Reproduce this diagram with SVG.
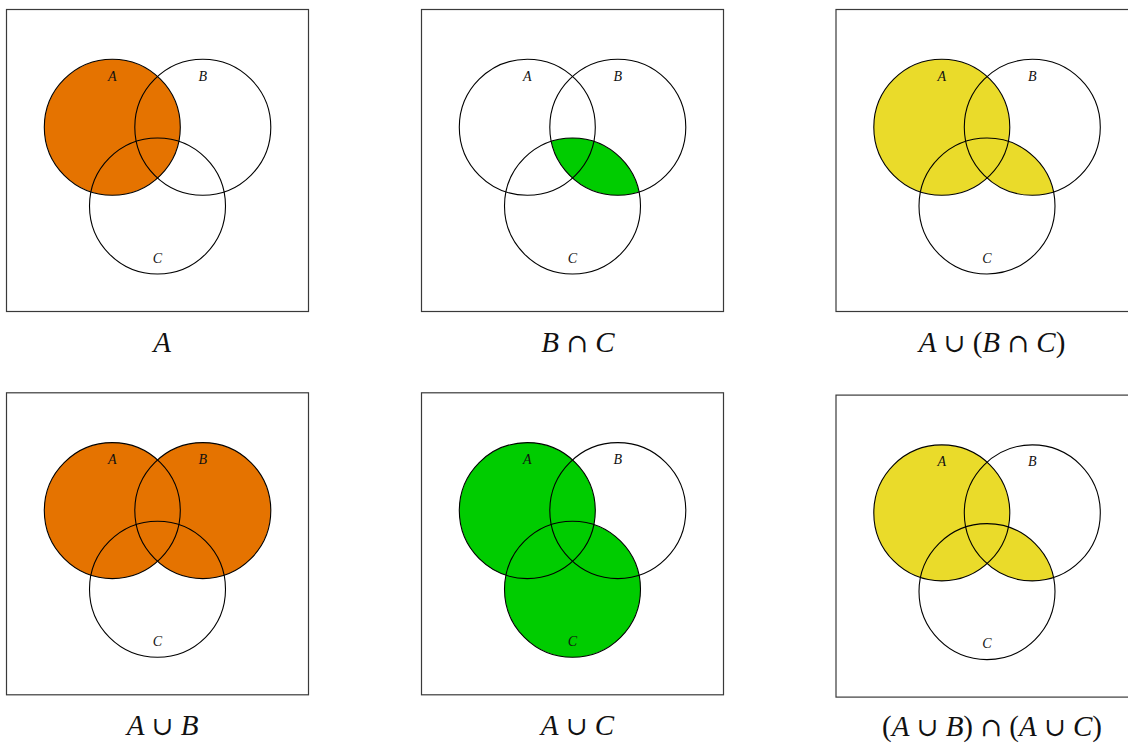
<svg xmlns="http://www.w3.org/2000/svg" xmlns:xlink="http://www.w3.org/1999/xlink" width="1128" height="744" viewBox="0 0 1128 744">
<style>
.frame{fill:none;stroke:#3a3a3a;stroke-width:1.2}
.outline{fill:none;stroke:#000;stroke-width:1.1}
.orange{fill:#e57300}
.green{fill:#00cc00}
.yellow{fill:#eadb2a}
.lbl{font-family:"Liberation Serif","DejaVu Serif",serif;font-style:italic;font-size:14px;text-anchor:middle;fill:#111}
.cap{font-family:"Liberation Serif","DejaVu Serif",serif;font-size:29px;text-anchor:middle;fill:#111}
.it{font-style:italic}
.op{font-family:"DejaVu Serif",serif;font-size:26px}
</style>
<defs>
<circle id="cA" cx="112.3" cy="127.3" r="68"/>
<circle id="cB" cx="202.8" cy="127.3" r="68"/>
<circle id="cC" cx="157.5" cy="206" r="68"/>
<clipPath id="clipB"><use xlink:href="#cB"/></clipPath>
<g id="outlines">
<use xlink:href="#cA" class="outline"/>
<use xlink:href="#cB" class="outline"/>
<use xlink:href="#cC" class="outline"/>
<text class="lbl" x="112.3" y="80.5">A</text>
<text class="lbl" x="202.8" y="80.5">B</text>
<text class="lbl" x="157.5" y="262.5">C</text>
</g>
</defs>
<rect x="0" y="0" width="1128" height="744" fill="#fff"/>

<g id="panel-A" transform="translate(0,0)">
<rect class="frame" x="6.5" y="9.5" width="302" height="302"/>
<use xlink:href="#cA" class="orange"/>
<use xlink:href="#outlines"/>
<text class="cap" x="162" y="352"><tspan class="it">A</tspan></text>
</g>

<g id="panel-BcapC" transform="translate(415,0)">
<rect class="frame" x="6.5" y="9.5" width="302" height="302"/>
<use xlink:href="#cC" class="green" clip-path="url(#clipB)"/>
<use xlink:href="#outlines"/>
<text class="cap" x="163" y="352"><tspan class="it">B</tspan> <tspan class="op">∩</tspan> <tspan class="it">C</tspan></text>
</g>

<g id="panel-AcupBcapC" transform="translate(829.5,0)">
<rect class="frame" x="6.5" y="9.5" width="302" height="302"/>
<use xlink:href="#cA" class="yellow"/>
<use xlink:href="#cC" class="yellow" clip-path="url(#clipB)"/>
<use xlink:href="#outlines"/>
<text class="cap" x="162.5" y="352"><tspan class="it">A</tspan> <tspan class="op">∪</tspan> (<tspan class="it">B</tspan> <tspan class="op">∩</tspan> <tspan class="it">C</tspan>)</text>
</g>

<g id="panel-AcupB" transform="translate(0,383.3)">
<rect class="frame" x="6.5" y="9.5" width="302" height="302"/>
<use xlink:href="#cA" class="orange"/>
<use xlink:href="#cB" class="orange"/>
<use xlink:href="#outlines"/>
<text class="cap" x="162.5" y="352"><tspan class="it">A</tspan> <tspan class="op">∪</tspan> <tspan class="it">B</tspan></text>
</g>

<g id="panel-AcupC" transform="translate(415,383.3)">
<rect class="frame" x="6.5" y="9.5" width="302" height="302"/>
<use xlink:href="#cA" class="green"/>
<use xlink:href="#cC" class="green"/>
<use xlink:href="#outlines"/>
<text class="cap" x="162.5" y="352"><tspan class="it">A</tspan> <tspan class="op">∪</tspan> <tspan class="it">C</tspan></text>
</g>

<g id="panel-AcupBcapAcupC" transform="translate(829.5,385.6)">
<rect class="frame" x="6.5" y="9.5" width="302" height="302"/>
<use xlink:href="#cA" class="yellow"/>
<use xlink:href="#cC" class="yellow" clip-path="url(#clipB)"/>
<use xlink:href="#outlines"/>
<text class="cap" x="162.5" y="350.5">(<tspan class="it">A</tspan> <tspan class="op">∪</tspan> <tspan class="it">B</tspan>) <tspan class="op">∩</tspan> (<tspan class="it">A</tspan> <tspan class="op">∪</tspan> <tspan class="it">C</tspan>)</text>
</g>
<g id="connectors"/>
</svg>
